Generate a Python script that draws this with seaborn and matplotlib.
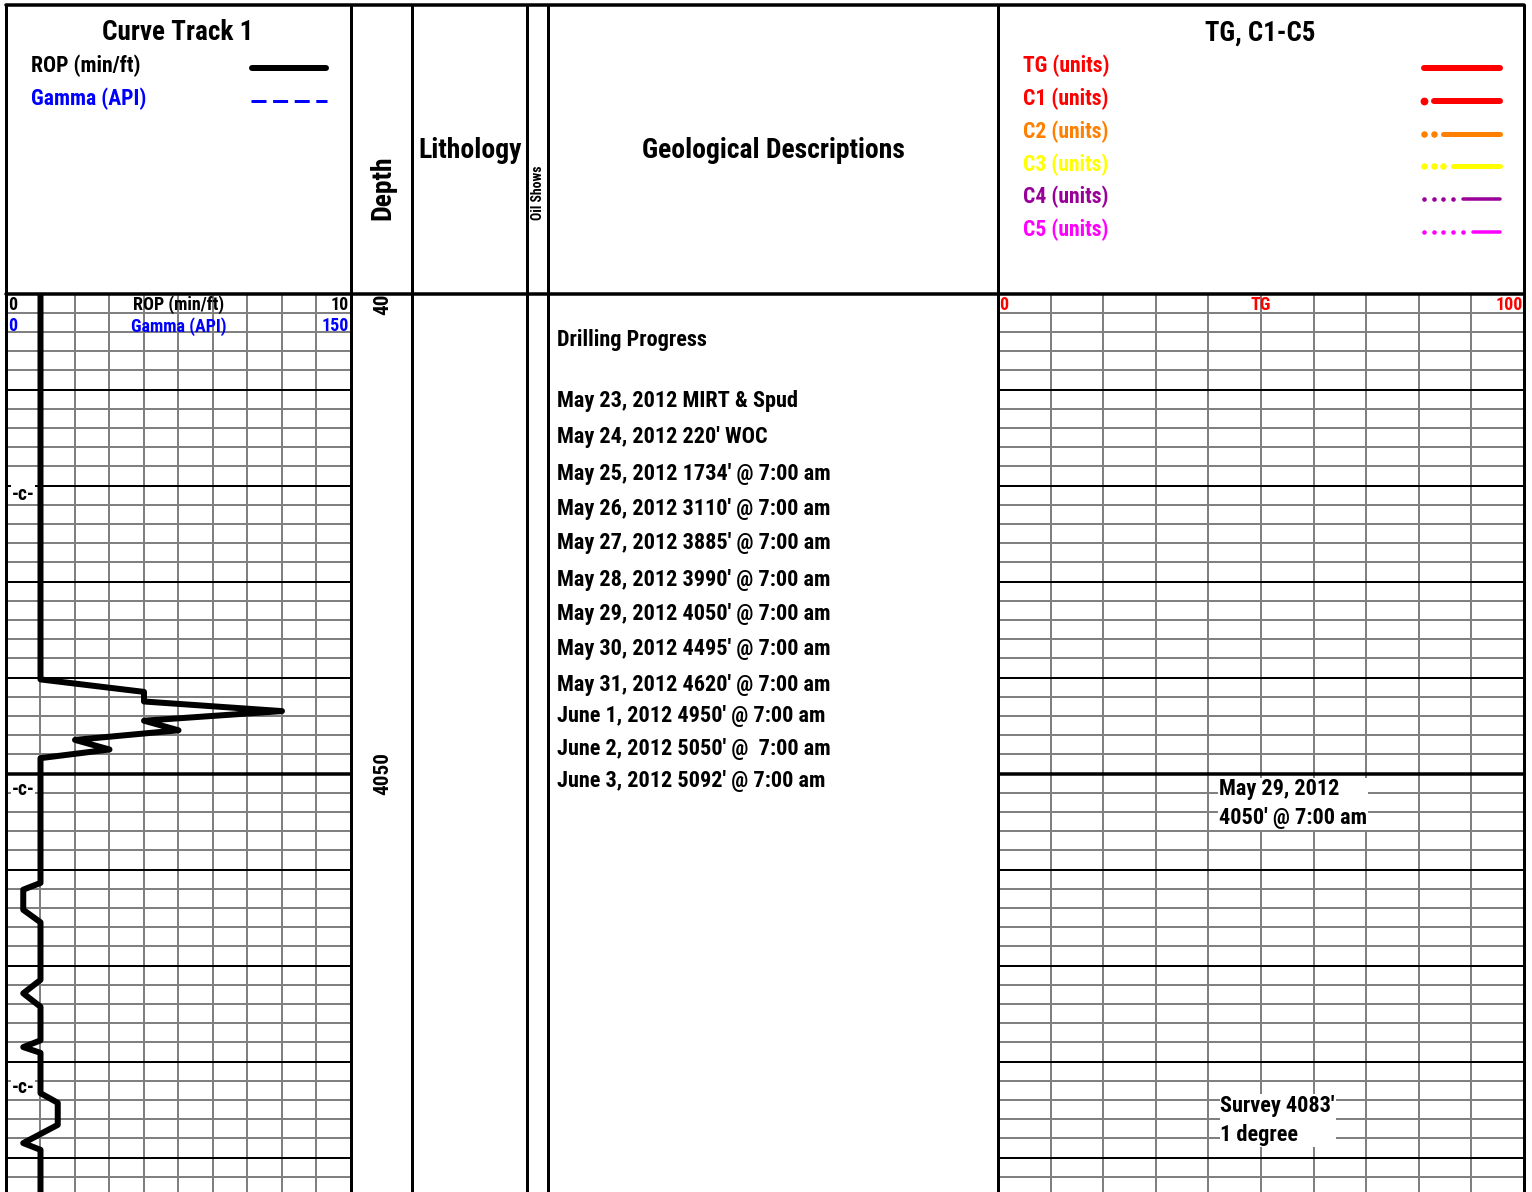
import os
import numpy as np
import pandas as pd
import matplotlib
matplotlib.use('Agg')
import matplotlib.pyplot as plt
from matplotlib import font_manager
import seaborn as sns

# ROP curve, depth in ft and rate in min/ft
rop_depth = [4000.0, 4040.2, 4041.5, 4042.5, 4043.5, 4044.5, 4045.5, 4046.5, 4047.5, 4048.4,
             4061.4, 4062.1, 4064.2, 4065.5, 4071.5, 4072.9, 4074.3, 4077.8, 4078.5, 4079.1,
             4083.3, 4084.3, 4086.6, 4088.5, 4089.2, 4093.6]
rop_value = [1.0, 1.0, 4.0, 4.0, 8.0, 4.0, 5.0, 2.0, 3.0, 1.0,
             1.0, 0.5, 0.5, 1.0, 1.0, 0.5, 1.0, 1.0, 0.5, 1.0,
             1.0, 1.5, 1.5, 0.5, 1.0, 1.0]

# connection markers
conn_depth = [4020.9, 4051.7, 4082.75]

depth_labels = [4000, 4050]

progress_title = 'Drilling Progress'
progress_lines = ["May 23, 2012 MIRT & Spud",
                  "May 24, 2012 220' WOC",
                  "May 25, 2012 1734' @ 7:00 am",
                  "May 26, 2012 3110' @ 7:00 am",
                  "May 27, 2012 3885' @ 7:00 am",
                  "May 28, 2012 3990' @ 7:00 am",
                  "May 29, 2012 4050' @ 7:00 am",
                  "May 30, 2012 4495' @ 7:00 am",
                  "May 31, 2012 4620' @ 7:00 am",
                  "June 1, 2012 4950' @ 7:00 am",
                  "June 2, 2012 5050' @  7:00 am",
                  "June 3, 2012 5092' @ 7:00 am"]
progress_depth = [4011.2, 4014.9, 4018.8, 4022.4, 4026.0, 4029.8, 4033.4, 4037.0,
                  4040.8, 4044.0, 4047.4, 4050.8]
progress_title_depth = 4004.8

tg_notes = ["May 29, 2012\n4050' @ 7:00 am", "Survey 4083'\n1 degree"]
tg_note_depth = [4050.5, 4083.5]
tg_note_x = [42.0, 42.3]

gas_names = ['TG (units)', 'C1 (units)', 'C2 (units)', 'C3 (units)', 'C4 (units)', 'C5 (units)']
gas_colors = ['#ff0000', '#ff0000', '#ff8000', '#ffff00', '#990099', '#ff00ff']
gas_dots = [0, 1, 2, 3, 4, 5]
gas_lw = [6, 6, 5, 5, 3.5, 3.5]

sns.set_theme(style='white')
plt.rcParams['font.family'] = ['Liberation Sans', 'DejaVu Sans']
plt.rcParams['font.weight'] = 'bold'
plt.rcParams['text.color'] = 'black'

# the log is set in a narrow bold sans; take the closest file we have
pref = ['LiberationSansNarrow-Bold', 'RobotoCondensed-Bold', 'NotoSans-CondensedBold',
        'DejaVuSansCondensed-Bold', 'LiberationSans-Bold']
files = {os.path.basename(f.fname).rsplit('.', 1)[0]: f.fname
         for f in font_manager.fontManager.ttflist}
font_file = next((files[p] for p in pref if p in files), None)


def fp(size):
    if font_file:
        return font_manager.FontProperties(fname=font_file, size=size)
    return font_manager.FontProperties(family='Liberation Sans', weight='bold', size=size)


W, H = 1532, 1192
PX = 0.72          # points per pixel at dpi 100
TOP, HDR = 5, 293.5
D0, FT = 4000.0, 9.6
edges = [6, 351, 412, 527, 548, 998, 1524]
gray = '#808080'

fig = plt.figure(figsize=(W / 100, H / 100), dpi=100)
fig.patch.set_facecolor('white')
renderer = fig.canvas.get_renderer()


def fit(t, target, vertical=False):
    bb = t.get_window_extent(renderer)
    cur = bb.height if vertical else bb.width
    t.set_fontsize(t.get_fontsize() * target / cur)
    return t.get_fontsize()


def track(x0, x1):
    ax = fig.add_axes([x0 / W, 0, (x1 - x0) / W, (H - HDR) / H])
    ax.set_facecolor('none')
    ax.tick_params(length=0, labelleft=False, labelbottom=False)
    for s in ax.spines.values():
        s.set_visible(False)
    return ax


def set_depth(ax):
    ax.set_ylim(D0 + (H - HDR) / FT, D0)


def depth_grid(ax, xmax, step):
    ax.set_xticks(np.arange(0, xmax + step / 2, step))
    ax.set_yticks(np.arange(4000, 4100, 10))
    ax.set_yticks(np.arange(4000, 4100, 2), minor=True)
    ax.grid(True, which='major', axis='x', color=gray, lw=2 * PX)
    ax.grid(True, which='minor', axis='y', color=gray, lw=2 * PX)
    ax.grid(True, which='major', axis='y', color='black', lw=2 * PX)
    ax.axhline(4050, color='black', lw=3.5 * PX)
    ax.set_axisbelow(True)
    ax.set_xlim(0, xmax)
    set_depth(ax)


# ROP track
ax_rop = track(edges[0], edges[1])
df = pd.DataFrame({'depth': rop_depth, 'rop': rop_value})
sns.lineplot(data=df, x='rop', y='depth', orient='y', ax=ax_rop, color='black',
             lw=6 * PX, solid_capstyle='round', sort=False)
ax_rop.set_xlabel('')
ax_rop.set_ylabel('')
depth_grid(ax_rop, 10, 1)
t = ax_rop.text(5.0, 4001.2, 'ROP (min/ft)', fontproperties=fp(12), va='center', ha='center')
s_lab = fit(t, 91)
ax_rop.text(0.05, 4001.2, '0', fontproperties=fp(s_lab), va='center', ha='left')
ax_rop.text(9.95, 4001.2, '10', fontproperties=fp(s_lab), va='center', ha='right')
ax_rop.text(0.05, 4003.4, '0', fontproperties=fp(s_lab), va='center', ha='left', color='blue')
ax_rop.text(5.0, 4003.4, 'Gamma (API)', fontproperties=fp(s_lab), va='center', ha='center',
            color='blue')
ax_rop.text(9.95, 4003.4, '150', fontproperties=fp(s_lab), va='center', ha='right', color='blue')
for d in conn_depth:
    t = ax_rop.text(0.5, d, '-c-', fontproperties=fp(13), va='center', ha='center',
                    bbox=dict(facecolor='white', edgecolor='none', pad=0.5))
    fit(t, 23)

# depth track
ax_dep = track(edges[1], edges[2])
ax_dep.set_xlim(0, 1)
set_depth(ax_dep)
s_dep = None
for d in depth_labels:
    t = ax_dep.text(0.52, d, str(d), rotation=90, fontproperties=fp(15), ha='center',
                    va='center', clip_on=True)
    if s_dep is None:
        s_dep = fit(t, 43, vertical=True)
    else:
        t.set_fontsize(s_dep)

# lithology and oil shows tracks stay empty
set_depth(track(edges[2], edges[3]))
set_depth(track(edges[3], edges[4]))

# geological descriptions
ax_geo = track(edges[4], edges[5])
ax_geo.set_xlim(0, 1)
set_depth(ax_geo)
rows = [ax_geo.text(0.02, d, s, fontproperties=fp(16), va='center')
        for d, s in zip(progress_depth, progress_lines)]
s_desc = fit(rows[0], 241)
for t in rows[1:]:
    t.set_fontsize(s_desc)
ax_geo.text(0.02, progress_title_depth, progress_title, fontproperties=fp(s_desc), va='center')

# gas track
ax_tg = track(edges[5], edges[6])
depth_grid(ax_tg, 100, 10)
ax_tg.text(0.3, 4001.2, '0', fontproperties=fp(s_lab), va='center', ha='left', color='red')
ax_tg.text(50, 4001.2, 'TG', fontproperties=fp(s_lab), va='center', ha='center', color='red')
ax_tg.text(99.8, 4001.2, '100', fontproperties=fp(s_lab), va='center', ha='right', color='red')
for x, d, s in zip(tg_note_x, tg_note_depth, tg_notes):
    ax_tg.text(x, d, s, fontproperties=fp(s_desc), va='top', ha='left', linespacing=1.4,
               bbox=dict(facecolor='white', edgecolor='none', pad=0.5))

# frame and header on top
ov = fig.add_axes([0, 0, 1, 1], zorder=10)
ov.set_facecolor('none')
ov.set_xlim(0, W)
ov.set_ylim(H, 0)
ov.axis('off')
for x in edges:
    ov.plot([x, x], [TOP, H], color='black', lw=3 * PX)
for y in [TOP, HDR]:
    ov.plot([edges[0], edges[-1]], [y, y], color='black', lw=3.5 * PX)

fit(ov.text(178, 33, 'Curve Track 1', fontproperties=fp(17), ha='center', va='center'), 151)
t = ov.text(31, 66, 'ROP (min/ft)', fontproperties=fp(15), va='center')
s_leg = fit(t, 110)
ov.text(31, 99, 'Gamma (API)', fontproperties=fp(s_leg), va='center', color='blue')
ov.plot([252, 326], [68, 68], color='black', lw=6 * PX, solid_capstyle='round')
ov.plot([251, 327], [101, 101], color='blue', lw=3 * PX, dashes=(5, 2.2))
fit(ov.text(383, 188, 'Depth', fontproperties=fp(17), rotation=90, ha='center', va='center'),
    65, vertical=True)
fit(ov.text(470, 150, 'Lithology', fontproperties=fp(17), ha='center', va='center'), 104)
fit(ov.text(538, 193, 'Oil Shows', fontproperties=fp(7.5), rotation=90, ha='center',
            va='center'), 54, vertical=True)
fit(ov.text(773, 150, 'Geological Descriptions', fontproperties=fp(17), ha='center',
            va='center'), 264)
fit(ov.text(1260, 33, 'TG, C1-C5', fontproperties=fp(17), ha='center', va='center'), 110)
for i, (name, c, n, lw) in enumerate(zip(gas_names, gas_colors, gas_dots, gas_lw)):
    y = 66 + i * 32.8
    ov.text(1023, y, name, fontproperties=fp(s_leg), va='center', color=c)
    xs = [1424 + 9.7 * j for j in range(n)]
    if n:
        ov.plot(xs, [y + 2] * n, 'o', color=c, ms=lw * PX * 1.3, mew=0)
    ov.plot([1424 + 9.7 * n, 1500], [y + 2, y + 2], color=c, lw=lw * PX,
            solid_capstyle='round')

fig.savefig('out.png', dpi=100, facecolor='white')
